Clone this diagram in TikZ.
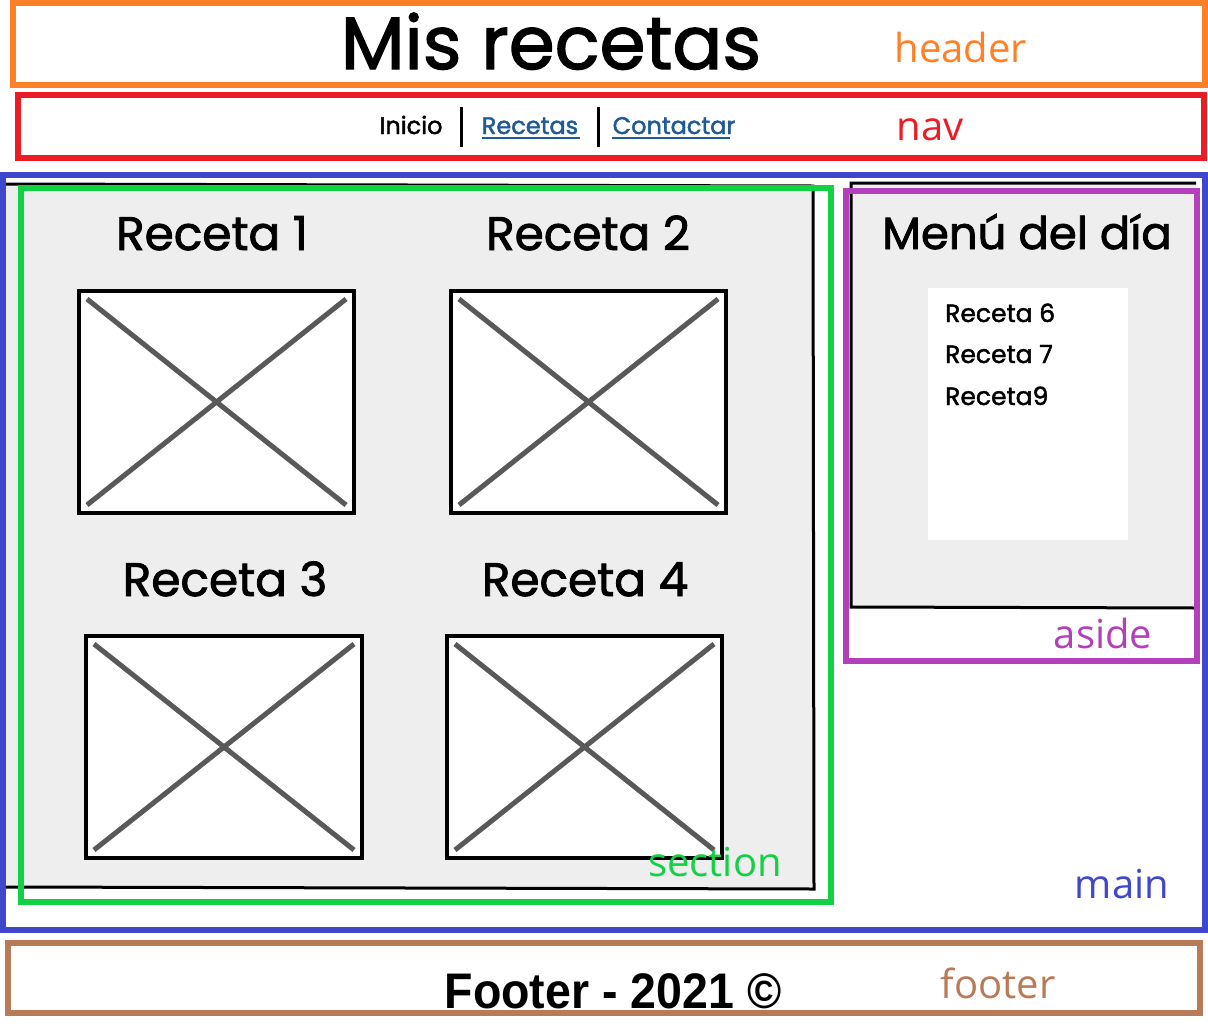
\documentclass[tikz,border=0pt]{standalone}
\usepackage{fontspec}
\usepackage{graphicx}
\usetikzlibrary{calc}
\setmainfont{Poppins}[FakeBold=1.8]
\newfontfamily\lblfont{Open Sans}
\newfontfamily\ftrfont{Liberation Sans}
\definecolor{cHeader}{HTML}{FF8027}
\definecolor{cNav}{HTML}{ED1C24}
\definecolor{cMain}{HTML}{3F48CC}
\definecolor{cSection}{HTML}{12D144}
\definecolor{cAside}{HTML}{B43FBB}
\definecolor{cFooter}{HTML}{B97A57}
\definecolor{cLink}{HTML}{1F5A96}
\definecolor{cPanel}{HTML}{EEEEEE}
\definecolor{cCross}{HTML}{595959}
\tikzset{
  region/.style={line width=5.5pt},
  sketch/.style={line width=3pt, draw=black},
  imgbox/.style={line width=3.5pt, draw=black, fill=white},
  crossline/.style={line width=5pt, draw=cCross},
  tag/.style={font=\lblfont\fontsize{40}{40}\selectfont, anchor=base, inner sep=0pt},
  title/.style={font=\fontsize{47}{47}\selectfont, anchor=base, inner sep=0pt},
  item/.style={font=\fontsize{25}{25}\selectfont, anchor=base west, inner sep=0pt},
  navitem/.style={font=\fontsize{24}{24}\selectfont, anchor=base, inner sep=0pt},
}
\newcommand{\placeholder}[5]{%
  \draw[imgbox] (#2,#3) rectangle (#4,#5);
  \coordinate (#1-nw) at (#2,#3);
  \coordinate (#1-se) at (#4,#5);
  \draw[crossline] ($(#1-nw)+(8,8)$) -- ($(#1-se)+(-8,-8)$);
  \draw[crossline] ($(#1-nw|-#1-se)+(8,-8)$) -- ($(#1-se|-#1-nw)+(-8,8)$);
}
\begin{document}
\begin{tikzpicture}[x=1pt,y=-1pt]
\useasboundingbox[fill=white] (0,0) rectangle (1208,1026);

% header
\draw[region, cHeader] (13,3) rectangle (1205,85);
\node[font=\fontsize{74}{74}\selectfont, anchor=base, inner sep=0pt] (title) at (551,69) {Mis recetas};
\node[tag, text=cHeader] (headertag) at (961,62) {header};

% nav
\draw[region, cNav] (18,95) rectangle (1204,158);
\node[navitem] (inicio) at (411,134) {Inicio};
\node[navitem, text=cLink] (recetas) at (530,134) {Recetas};
\node[navitem, text=cLink] (contactar) at (674,134) {Contactar};
\draw[cLink, line width=1.8pt] (recetas.base west)++(0,4) -- ++(98,0);
\draw[cLink, line width=1.8pt] (contactar.base west)++(0,4) -- ++(118,0);
\draw[line width=3pt] (461,107) -- (461,147);
\draw[line width=3pt] (598,107) -- (598,147);
\node[tag, text=cNav] (navtag) at (930,140) {nav};

% main
\draw[region, cMain] (3,175) rectangle (1205,930);

% section panel
\fill[cPanel] (6,184) rectangle (813,888);
\draw[sketch] (6,184) -- (813,186) -- (814,889) -- (6,887);
\placeholder{img1}{79}{291}{354}{513}
\placeholder{img2}{451}{291}{726}{513}
\placeholder{img3}{86}{636}{362}{858}
\placeholder{img4}{447}{636}{722}{858}
\node[title] (r1) at (212,250) {Receta 1};
\node[title] (r2) at (588,250) {Receta 2};
\node[title] (r3) at (225,596) {Receta 3};
\node[title] (r4) at (585,596) {Receta 4};
\draw[region, cSection, line width=6pt] (21,188) rectangle (831,902);
\node[tag, text=cSection] (sectiontag) at (715,876) {section};
\node[tag, text=cMain] (maintag) at (1122,898) {main};

% aside
\fill[cPanel] (851,184) rectangle (1196,607);
\draw[sketch] (1196,183) -- (851,183) -- (851,607) -- (1196,608);
\fill[white] (928,288) rectangle (1128,540);
\node[font=\fontsize{45}{45}\selectfont, anchor=base, inner sep=0pt] (menu) at (1027,249) {Menú del día};
\node[item] (r6) at (945,322) {Receta 6};
\node[item] (r7) at (945,363) {Receta 7};
\node[item] (r9) at (945,405) {Receta9};
\draw[region, cAside, line width=6pt] (846,191) rectangle (1197,661);
\node[tag, text=cAside] (asidetag) at (1103,648) {aside};

% footer
\draw[region, cFooter, line width=6pt] (8,943) rectangle (1200,1013);
\node[font=\ftrfont\bfseries\fontsize{50}{50}\selectfont, anchor=base, inner sep=0pt] (footertext) at (613,1008) {\scalebox{0.93}[1]{Footer - 2021 ©}};
\node[tag, text=cFooter] (footertag) at (998,998) {footer};
\end{tikzpicture}
\end{document}
